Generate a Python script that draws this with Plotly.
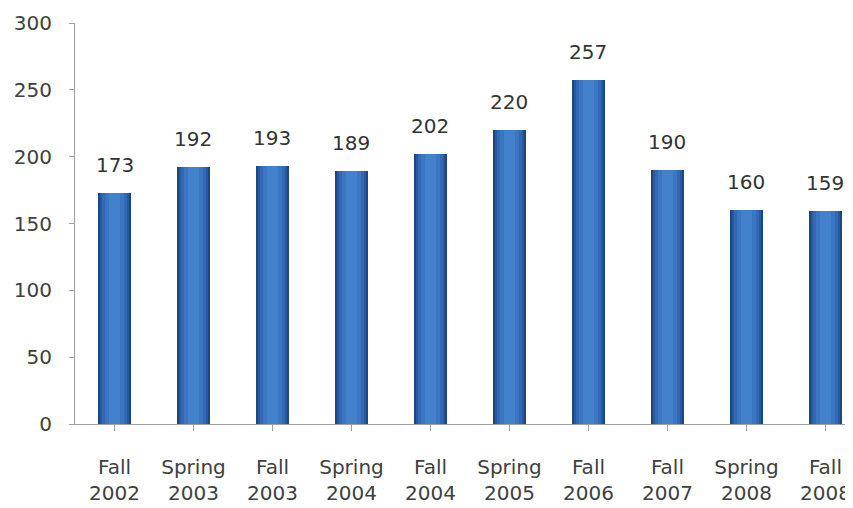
import plotly.graph_objects as go

semesters = ["Fall 2002", "Spring 2003", "Fall 2003", "Spring 2004", "Fall 2004",
             "Spring 2005", "Fall 2006", "Fall 2007", "Spring 2008", "Fall 2008"]
tick_labels = ["Fall<br>2002", "Spring<br>2003", "Fall<br>2003", "Spring<br>2004", "Fall<br>2004",
               "Spring<br>2005", "Fall<br>2006", "Fall<br>2007", "Spring<br>2008", "Fall<br>2008"]
counts = [173, 192, 193, 189, 202, 220, 257, 190, 160, 159]

FONT = "DejaVu Sans"
TXT = "#404040"

fig = go.Figure()

# layered bars to mimic the cylindrical gradient
layers = [(0.41, "#1D467C"), (0.37, "#2759A0"), (0.31, "#3369B4"),
          (0.23, "#3B76C3"), (0.13, "#4381CD")]
for w, c in layers:
    fig.add_trace(go.Bar(x=list(range(len(counts))), y=counts, width=w,
                         marker=dict(color=c, line=dict(width=0)),
                         hoverinfo="skip", showlegend=False))

for i, v in enumerate(counts):
    fig.add_annotation(x=i, y=v, text=str(v), showarrow=False, yanchor="bottom",
                       yshift=14, font=dict(family=FONT, size=20, color="#333333"))

fig.update_layout(
    width=853, height=508,
    margin=dict(l=67, r=0, t=15, b=92),
    paper_bgcolor="white", plot_bgcolor="white",
    barmode="overlay", bargap=0,
    font=dict(family=FONT, size=20, color=TXT),
)
fig.update_xaxes(
    range=[-0.5, 9.45], tickmode="array", tickvals=list(range(len(counts))),
    ticktext=tick_labels, showline=True, linecolor="#A0A0A0", linewidth=1,
    ticks="outside", tickson="boundaries", ticklen=6, tickcolor="#A0A0A0",
    showgrid=False, zeroline=False, ticklabelstandoff=19,
    tickfont=dict(family=FONT, size=20, color=TXT),
)
fig.update_yaxes(
    range=[0, 300], tickvals=[0, 50, 100, 150, 200, 250, 300],
    showline=True, linecolor="#A0A0A0", linewidth=1,
    ticks="outside", ticklen=5, tickcolor="#A0A0A0",
    showgrid=False, zeroline=False, ticklabelstandoff=13,
    tickfont=dict(family=FONT, size=20, color=TXT),
)

fig.write_html("out.html")
